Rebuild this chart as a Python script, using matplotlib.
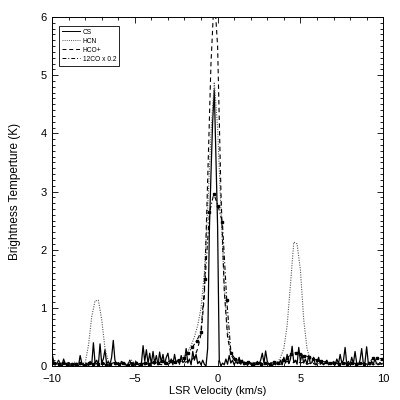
import numpy as np
import matplotlib
matplotlib.use("Agg")
import matplotlib.pyplot as plt
from matplotlib.lines import Line2D
from matplotlib.ticker import MultipleLocator

plt.rcParams['font.family'] = ['Liberation Sans', 'DejaVu Sans']

# velocity axes (km/s): channel start and width for each spectrum
cs_v0, cs_dv = -10.0, 0.1
mol_v0, mol_dv = -10.0, 0.2
co_v0, co_dv = -9.85, 0.26

# CS, 0.1 km/s channels
cs_tb = [
    0.22, 0.08, 0.02, 0.05, 0.10, 0.03, 0.00, 0.12, 0.04, 0.01,
    0.06, 0.02, 0.00, 0.04, 0.01, 0.03, 0.00, 0.18, 0.05, 0.00,
    0.02, 0.05, 0.00, 0.08, 0.03, 0.40, 0.05, 0.10, 0.02, 0.38,
    0.05, 0.12, 0.28, 0.03, 0.08, 0.02, 0.15, 0.44, 0.10, 0.03,
    0.06, 0.02, 0.08, 0.04, 0.05, 0.00, 0.03, 0.10, 0.02, 0.06,
    0.01, 0.07, 0.03, 0.00, 0.05, 0.35, 0.08, 0.28, 0.04, 0.22,
    0.03, 0.25, 0.05, 0.18, 0.02, 0.24, 0.06, 0.20, 0.03, 0.15,
    0.22, 0.04, 0.12, 0.02, 0.20, 0.05, 0.10, 0.03, 0.18, 0.06,
    0.08, 0.30, 0.05, 0.12, 0.02, 0.25, 0.10, 0.20, 0.04, 0.08,
    0.02, 0.10, 0.03, 0.00, 0.30, 2.30, 3.30, 4.20, 4.75, 3.60,
    2.40, 0.10, 0.00, 0.05, 0.02, 0.12, 0.03, 0.18, 0.05, 0.10,
    0.02, 0.08, 0.04, 0.15, 0.03, 0.10, 0.02, 0.06, 0.01, 0.05,
    0.03, 0.00, 0.06, 0.02, 0.08, 0.03, 0.10, 0.22, 0.05, 0.26,
    0.08, 0.02, 0.05, 0.00, 0.04, 0.02, 0.07, 0.03, 0.10, 0.02,
    0.15, 0.05, 0.20, 0.04, 0.12, 0.34, 0.06, 0.10, 0.03, 0.32,
    0.08, 0.20, 0.05, 0.12, 0.03, 0.18, 0.04, 0.06, 0.15, 0.02,
    0.05, 0.15, 0.03, 0.08, 0.02, 0.06, 0.10, 0.02, 0.05, 0.03,
    0.08, 0.02, 0.12, 0.04, 0.20, 0.05, 0.10, 0.32, 0.03, 0.08,
    0.02, 0.15, 0.04, 0.25, 0.05, 0.02, 0.10, 0.30, 0.04, 0.06,
    0.33, 0.05, 0.02, 0.08, 0.03, 0.12, 0.04, 0.02, 0.06, 0.03,
    0.05,
]

# HCN, 0.2 km/s channels
hcn_tb = [
    0.05, 0.02, 0.08, 0.03, 0.06, 0.02, 0.04, 0.07, 0.03, 0.05,
    0.05, 0.35, 0.85, 1.12, 1.13, 0.80, 0.30, 0.08, 0.04, 0.06,
    0.03, 0.08, 0.02, 0.05, 0.10, 0.04, 0.06, 0.02, 0.08, 0.05,
    0.03, 0.07, 0.12, 0.05, 0.09, 0.04, 0.08, 0.06, 0.10, 0.12,
    0.18, 0.25, 0.35, 0.50, 0.70, 1.00, 1.60, 2.70, 4.00, 4.88,
    4.10, 2.70, 1.40, 0.60, 0.25, 0.10, 0.05, 0.08, 0.03, 0.06,
    0.04, 0.07, 0.03, 0.05, 0.02, 0.06, 0.04, 0.08, 0.05, 0.15,
    0.30, 0.70, 1.40, 2.13, 2.10, 1.65, 0.80, 0.30, 0.10, 0.05,
    0.03, 0.06, 0.02, 0.05, 0.04, 0.07, 0.03, 0.05, 0.02, 0.06,
    0.04, 0.03, 0.06, 0.02, 0.05, 0.03, 0.04, 0.02, 0.05, 0.03,
    0.04,
]

# HCO+, 0.2 km/s channels
hco_tb = [
    0.04, 0.02, 0.05, 0.01, 0.03, 0.06, 0.02, 0.04, 0.01, 0.03,
    0.05, 0.02, 0.04, 0.06, 0.02, 0.03, 0.05, 0.01, 0.04, 0.02,
    0.03, 0.05, 0.02, 0.04, 0.06, 0.02, 0.03, 0.05, 0.02, 0.04,
    0.06, 0.03, 0.05, 0.02, 0.07, 0.04, 0.08, 0.05, 0.10, 0.08,
    0.06, 0.08, 0.10, 0.15, 0.30, 0.55, 1.20, 3.20, 5.20, 6.40,
    5.50, 3.00, 1.30, 0.50, 0.20, 0.10, 0.06, 0.04, 0.07, 0.03,
    0.05, 0.02, 0.04, 0.06, 0.03, 0.05, 0.02, 0.04, 0.06, 0.03,
    0.05, 0.08, 0.04, 0.06, 0.10, 0.05, 0.07, 0.03, 0.05, 0.04,
    0.02, 0.05, 0.03, 0.06, 0.04, 0.02, 0.05, 0.03, 0.04, 0.06,
    0.03, 0.05, 0.02, 0.04, 0.06, 0.03, 0.05, 0.02, 0.04, 0.03,
    0.05,
]

# 12CO scaled by 0.2, 0.26 km/s channels
co_tb = [
    0.05, 0.03, 0.06, 0.02, 0.04, 0.03, 0.05, 0.02, 0.06, 0.04,
    0.03, 0.05, 0.02, 0.04, 0.06, 0.03, 0.05, 0.02, 0.04, 0.06,
    0.03, 0.05, 0.04, 0.07, 0.05, 0.08, 0.06, 0.09, 0.07, 0.10,
    0.14, 0.22, 0.32, 0.43, 0.58, 1.50, 2.64, 2.96, 2.75, 2.47,
    1.14, 0.22, 0.12, 0.08, 0.05, 0.07, 0.04, 0.06, 0.03, 0.05,
    0.04, 0.07, 0.05, 0.10, 0.14, 0.20, 0.23, 0.21, 0.18, 0.16,
    0.12, 0.10, 0.08, 0.07, 0.05, 0.06, 0.04, 0.05, 0.03, 0.06,
    0.04, 0.05, 0.03, 0.06, 0.13, 0.14, 0.12,
]

labels = ['CS', 'HCN', 'HCO+', '12CO x 0.2']

cs_v = cs_v0 + cs_dv * np.arange(len(cs_tb))
hcn_v = mol_v0 + mol_dv * np.arange(len(hcn_tb))
hco_v = mol_v0 + mol_dv * np.arange(len(hco_tb))
co_v = co_v0 + co_dv * np.arange(len(co_tb))

fig = plt.figure(figsize=(4, 4), dpi=100)
ax = fig.add_axes([0.13, 0.085, 0.828, 0.8725])

ax.plot(cs_v, cs_tb, color='black', lw=0.9, ls='-')
ax.plot(hcn_v, hcn_tb, color='0.35', lw=0.8, ls=(0, (1, 1.2)))
ax.plot(hco_v, hco_tb, color='black', lw=0.8, ls=(0, (4, 3)))
ax.plot(co_v, co_tb, color='black', lw=0.8, ls=(0, (4, 2, 1, 2)),
        marker='s', ms=1.7, mfc='black', mec='black')

ax.set_xlim(-10, 10)
ax.set_ylim(0, 6)
ax.xaxis.set_major_locator(MultipleLocator(5))
ax.xaxis.set_minor_locator(MultipleLocator(1))
ax.yaxis.set_major_locator(MultipleLocator(1))
ax.yaxis.set_minor_locator(MultipleLocator(0.1))
ax.tick_params(which='both', direction='in', top=True, right=True,
               labelsize=8, width=0.6)
ax.tick_params(axis='x', pad=6)
ax.tick_params(axis='y', pad=4)
ax.tick_params(which='major', length=4)
ax.tick_params(which='minor', length=2)
for s in ax.spines.values():
    s.set_linewidth(0.7)

ax.set_xlabel('LSR Velocity (km/s)', fontsize=8, labelpad=1)
ax.set_ylabel('Brightness Temperture (K)', fontsize=8.5, labelpad=14)

handles = [
    Line2D([], [], color='black', lw=0.7, ls='-'),
    Line2D([], [], color='0.35', lw=0.7, ls=(0, (1, 1.2))),
    Line2D([], [], color='black', lw=0.7, ls=(0, (4, 3))),
    Line2D([], [], color='black', lw=0.7, ls=(0, (4, 2, 1, 2))),
]
leg = ax.legend(handles, labels, loc='upper left', fontsize=4.8,
                bbox_to_anchor=(0.012, 0.985), fancybox=False,
                edgecolor='black', framealpha=1, handlelength=2.6,
                handletextpad=0.5, borderpad=0.45, labelspacing=0.3)
leg.get_frame().set_linewidth(0.6)

fig.savefig('out.png', dpi=100)
